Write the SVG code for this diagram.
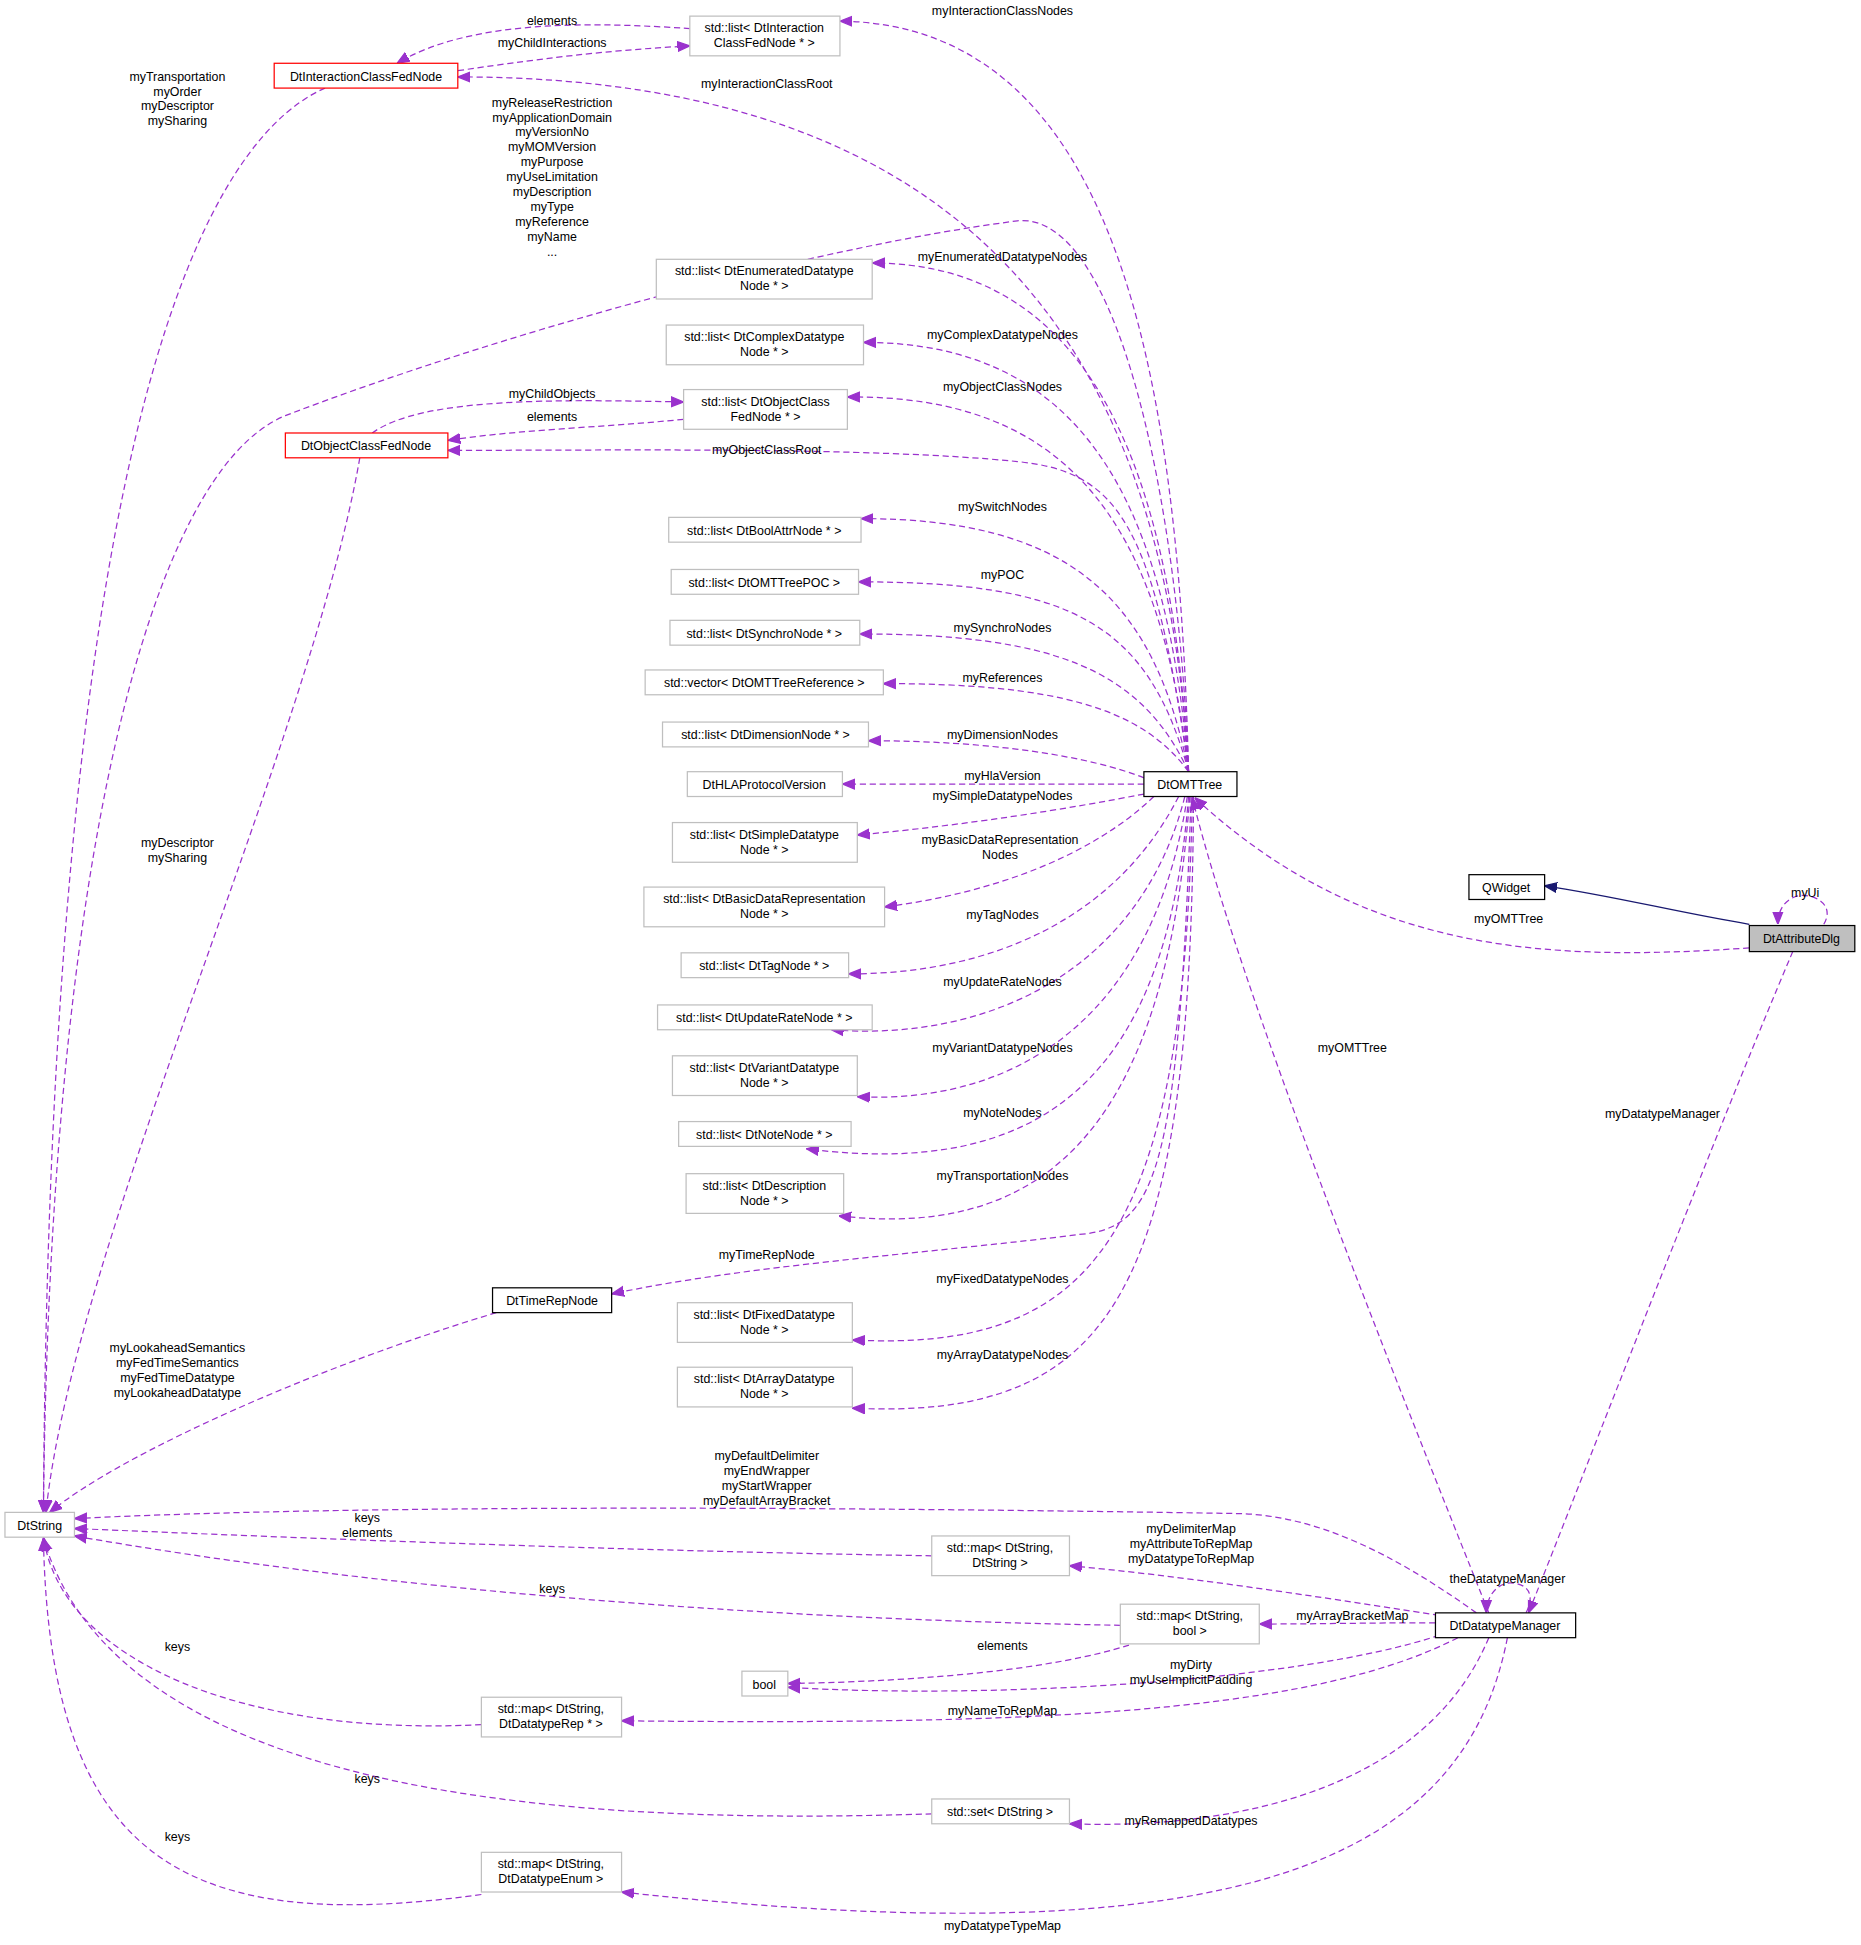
<svg xmlns="http://www.w3.org/2000/svg" width="1861" height="1945" viewBox="0 0 1861 1945">
<style>
text{font-family:"Liberation Sans",Arial,sans-serif;font-size:10px;fill:#000}
.n text{text-anchor:middle}
.g{fill:#fff;stroke:#bfbfbf;stroke-width:1}
.b{fill:#fff;stroke:#000;stroke-width:1}
.r{fill:#fff;stroke:#ff0000;stroke-width:1}
.e path{fill:none;stroke:#9a32cd;stroke-width:1;stroke-dasharray:5,3;marker-end:url(#m)}
.e text{text-anchor:middle}
</style>
<defs>
<marker id="m" viewBox="0 0 10 10" refX="10" refY="5" markerWidth="10" markerHeight="10" markerUnits="userSpaceOnUse" orient="auto"><path d="M0,1 L10,5 L0,9 z" fill="#9a32cd" stroke="#9a32cd"/></marker>
<marker id="mb" viewBox="0 0 10 10" refX="10" refY="5" markerWidth="10" markerHeight="10" markerUnits="userSpaceOnUse" orient="auto"><path d="M0,1 L10,5 L0,9 z" fill="#191970" stroke="#191970"/></marker>
</defs>
<rect width="1861" height="1945" fill="#fff"/>
<g transform="scale(1.24067)">
<g class="e" id="edges">
<path d="M958,622 C950,300 900,20 677,17"/><text x="808" y="12">myInteractionClassNodes</text>
<path d="M958,622 C940,300 800,62 369,62"/><text x="618" y="71">myInteractionClassRoot</text>
<path d="M958,622 C950,400 900,170 820,178 C650,200 400,270 230,335 C120,380 40,700 35,1219"/>
<text x="445" y="86">myReleaseRestriction</text><text x="445" y="98">myApplicationDomain</text><text x="445" y="110">myVersionNo</text><text x="445" y="122">myMOMVersion</text><text x="445" y="134">myPurpose</text><text x="445" y="146">myUseLimitation</text><text x="445" y="158">myDescription</text><text x="445" y="170">myType</text><text x="445" y="182">myReference</text><text x="445" y="194">myName</text><text x="445" y="206">...</text>
<path d="M958,622 C945,380 880,212 703,212"/><text x="808" y="210">myEnumeratedDatatypeNodes</text>
<path d="M958,622 C940,400 870,276 696,276"/><text x="808" y="273">myComplexDatatypeNodes</text>
<path d="M958,622 C935,420 860,318 683,320"/><text x="808" y="315">myObjectClassNodes</text>
<path d="M958,622 C930,420 900,380 820,372 C700,360 500,363 361,363"/><text x="618" y="366">myObjectClassRoot</text>
<path d="M958,622 C930,480 860,418 694,418"/><text x="808" y="412">mySwitchNodes</text>
<path d="M958,622 C925,500 860,469 692,469"/><text x="808" y="467">myPOC</text>
<path d="M958,622 C920,540 850,511 693,511"/><text x="808" y="509">mySynchroNodes</text>
<path d="M958,622 C920,570 850,551 712,551"/><text x="808" y="550">myReferences</text>
<path d="M922,627 C880,610 800,597 700,597"/><text x="808" y="596">myDimensionNodes</text>
<path d="M922,632 L679,632"/><text x="808" y="629">myHlaVersion</text>
<path d="M922,640 C860,652 780,665 691,673"/><text x="808" y="645">mySimpleDatatypeNodes</text>
<path d="M930,642 C880,690 800,720 713,731"/><text x="806" y="680">myBasicDataRepresentation</text><text x="806" y="692">Nodes</text>
<path d="M950,642 C900,740 800,785 684,785"/><text x="808" y="741">myTagNodes</text>
<path d="M955,642 C920,780 800,840 670,830"/><text x="808" y="795">myUpdateRateNodes</text>
<path d="M957,642 C930,820 820,890 691,884"/><text x="808" y="848">myVariantDatatypeNodes</text>
<path d="M958,642 C940,870 840,950 650,926"/><text x="808" y="900">myNoteNodes</text>
<path d="M959,642 C940,900 850,1000 676,980"/><text x="808" y="951">myTransportationNodes</text>
<path d="M960,642 C950,950 930,990 870,995 C750,1010 600,1020 493,1043"/><text x="618" y="1015">myTimeRepNode</text>
<path d="M961,642 C955,1000 880,1090 687,1080"/><text x="808" y="1034">myFixedDatatypeNodes</text>
<path d="M962,642 C960,1040 900,1145 687,1135"/><text x="808" y="1095">myArrayDatatypeNodes</text>
<path d="M369,57 C450,45 500,40 556,37"/><text x="445" y="38">myChildInteractions</text>
<path d="M556,23 C480,18 380,15 320,51"/><text x="445" y="20">elements</text>
<path d="M262,71 C150,120 40,400 35,1219"/><text x="143" y="65">myTransportation</text><text x="143" y="77">myOrder</text><text x="143" y="89">myDescriptor</text><text x="143" y="101">mySharing</text>
<path d="M300,349 C340,320 450,322 551,324"/><text x="445" y="321">myChildObjects</text>
<path d="M551,338 C480,345 420,346 361,355"/><text x="445" y="339">elements</text>
<path d="M290,369 C250,600 60,1000 37,1219"/><text x="143" y="683">myDescriptor</text><text x="143" y="695">mySharing</text>
<path d="M400,1058 C260,1100 100,1170 40,1219"/><text x="143" y="1090">myLookaheadSemantics</text><text x="143" y="1102">myFedTimeSemantics</text><text x="143" y="1114">myFedTimeDatatype</text><text x="143" y="1126">myLookaheadDatatype</text>
<path d="M1410,764 C1250,775 1100,770 963,643"/><text x="1216" y="744">myOMTTree</text>
<path d="M1445,767 C1380,920 1280,1180 1232,1300"/><text x="1340" y="901">myDatatypeManager</text>
<path d="M1470,745 C1480,728 1460,720 1450,722 C1440,724 1433,732 1433,745"/><text x="1455" y="723">myUi</text>
<path d="M1200,1300 C1120,1100 1000,800 961,643"/><text x="1090" y="848">myOMTTree</text>
<path d="M1230,1300 C1240,1280 1225,1275 1215,1276 C1205,1278 1198,1288 1198,1300"/><text x="1215" y="1276">theDatatypeManager</text>
<path d="M1190,1300 C1120,1250 1060,1222 1000,1220 C700,1215 300,1212 60,1224"/><text x="618" y="1177">myDefaultDelimiter</text><text x="618" y="1189">myEndWrapper</text><text x="618" y="1201">myStartWrapper</text><text x="618" y="1213">myDefaultArrayBracket</text>
<path d="M751,1254 C500,1250 250,1240 60,1232"/><text x="296" y="1227">keys</text><text x="296" y="1239">elements</text>
<path d="M1160,1302 C1050,1285 950,1270 862,1262"/><text x="960" y="1236">myDelimiterMap</text><text x="960" y="1248">myAttributeToRepMap</text><text x="960" y="1260">myDatatypeToRepMap</text>
<path d="M903,1310 C600,1305 300,1280 60,1238"/><text x="445" y="1284">keys</text>
<path d="M1157,1308 C1100,1308 1060,1309 1015,1309"/><text x="1090" y="1306">myArrayBracketMap</text>
<path d="M910,1326 C850,1345 750,1355 635,1357"/><text x="808" y="1330">elements</text>
<path d="M1160,1318 C1050,1355 800,1370 635,1360"/><text x="960" y="1345">myDirty</text><text x="960" y="1357">myUseImplicitPadding</text>
<path d="M388,1390 C200,1400 50,1340 35,1239"/><text x="143" y="1331">keys</text>
<path d="M1175,1320 C1050,1385 800,1390 501,1387"/><text x="808" y="1382">myNameToRepMap</text>
<path d="M751,1462 C500,1470 100,1460 35,1240"/><text x="296" y="1437">keys</text>
<path d="M1200,1320 C1150,1440 1000,1475 862,1470"/><text x="960" y="1471">myRemappedDatatypes</text>
<path d="M388,1527 C150,1560 40,1500 35,1240"/><text x="143" y="1484">keys</text>
<path d="M1215,1320 C1180,1500 1000,1580 501,1525"/><text x="808" y="1556">myDatatypeTypeMap</text>
<path d="M1410,745 C1350,735 1300,722 1245,714" style="stroke:#191970;stroke-dasharray:none;marker-end:url(#mb)"/>
</g>
<g class="n">
<g id="n1"><rect class="r" x="221" y="51" width="148" height="20"/><text x="295" y="65">DtInteractionClassFedNode</text></g>
<g id="n2"><rect class="g" x="556" y="13" width="121" height="32"/><text x="616" y="26">std::list&lt; DtInteraction</text><text x="616" y="38">ClassFedNode * &gt;</text></g>
<g id="n3"><rect class="r" x="230" y="349" width="131" height="20"/><text x="295" y="363">DtObjectClassFedNode</text></g>
<g id="n4"><rect class="g" x="529" y="209" width="174" height="32"/><text x="616" y="222">std::list&lt; DtEnumeratedDatatype</text><text x="616" y="234">Node * &gt;</text></g>
<g id="n5"><rect class="g" x="537" y="262" width="159" height="32"/><text x="616" y="275">std::list&lt; DtComplexDatatype</text><text x="616" y="287">Node * &gt;</text></g>
<g id="n6"><rect class="g" x="551" y="314" width="132" height="32"/><text x="617" y="327">std::list&lt; DtObjectClass</text><text x="617" y="339">FedNode * &gt;</text></g>
<g id="n7"><rect class="g" x="539" y="417" width="155" height="20"/><text x="616" y="431">std::list&lt; DtBoolAttrNode * &gt;</text></g>
<g id="n8"><rect class="g" x="541" y="459" width="151" height="20"/><text x="616" y="473">std::list&lt; DtOMTTreePOC &gt;</text></g>
<g id="n9"><rect class="g" x="540" y="500" width="153" height="20"/><text x="616" y="514">std::list&lt; DtSynchroNode * &gt;</text></g>
<g id="n10"><rect class="g" x="520" y="540" width="192" height="20"/><text x="616" y="554">std::vector&lt; DtOMTTreeReference &gt;</text></g>
<g id="n11"><rect class="g" x="534" y="582" width="166" height="20"/><text x="617" y="596">std::list&lt; DtDimensionNode * &gt;</text></g>
<g id="n12"><rect class="g" x="554" y="622" width="125" height="20"/><text x="616" y="636">DtHLAProtocolVersion</text></g>
<g id="n13"><rect class="g" x="542" y="663" width="149" height="32"/><text x="616" y="676">std::list&lt; DtSimpleDatatype</text><text x="616" y="688">Node * &gt;</text></g>
<g id="n14"><rect class="g" x="519" y="715" width="194" height="32"/><text x="616" y="728">std::list&lt; DtBasicDataRepresentation</text><text x="616" y="740">Node * &gt;</text></g>
<g id="n15"><rect class="g" x="549" y="768" width="135" height="20"/><text x="616" y="782">std::list&lt; DtTagNode * &gt;</text></g>
<g id="n16"><rect class="g" x="530" y="810" width="173" height="20"/><text x="616" y="824">std::list&lt; DtUpdateRateNode * &gt;</text></g>
<g id="n17"><rect class="g" x="542" y="851" width="149" height="32"/><text x="616" y="864">std::list&lt; DtVariantDatatype</text><text x="616" y="876">Node * &gt;</text></g>
<g id="n18"><rect class="g" x="547" y="904" width="139" height="20"/><text x="616" y="918">std::list&lt; DtNoteNode * &gt;</text></g>
<g id="n19"><rect class="g" x="553" y="946" width="127" height="32"/><text x="616" y="959">std::list&lt; DtDescription</text><text x="616" y="971">Node * &gt;</text></g>
<g id="n20"><rect class="b" x="397" y="1038" width="96" height="20"/><text x="445" y="1052">DtTimeRepNode</text></g>
<g id="n21"><rect class="g" x="546" y="1050" width="141" height="32"/><text x="616" y="1063">std::list&lt; DtFixedDatatype</text><text x="616" y="1075">Node * &gt;</text></g>
<g id="n22"><rect class="g" x="546" y="1102" width="141" height="32"/><text x="616" y="1115">std::list&lt; DtArrayDatatype</text><text x="616" y="1127">Node * &gt;</text></g>
<g id="n23"><rect class="b" x="922" y="622" width="75" height="20"/><text x="959" y="636">DtOMTTree</text></g>
<g id="n24"><rect class="b" x="1184" y="705" width="61" height="20"/><text x="1214" y="719">QWidget</text></g>
<g id="n25"><rect x="1410" y="746" width="85" height="21" fill="#bfbfbf" stroke="#000"/><text x="1452" y="760">DtAttributeDlg</text></g>
<g id="n26"><rect class="g" x="4" y="1219" width="56" height="20"/><text x="32" y="1233">DtString</text></g>
<g id="n27"><rect class="g" x="751" y="1238" width="111" height="32"/><text x="806" y="1251">std::map&lt; DtString,</text><text x="806" y="1263">DtString &gt;</text></g>
<g id="n28"><rect class="g" x="903" y="1293" width="112" height="32"/><text x="959" y="1306">std::map&lt; DtString,</text><text x="959" y="1318">bool &gt;</text></g>
<g id="n29"><rect class="g" x="598" y="1347" width="37" height="20"/><text x="616" y="1361">bool</text></g>
<g id="n30"><rect class="g" x="388" y="1368" width="113" height="32"/><text x="444" y="1381">std::map&lt; DtString,</text><text x="444" y="1393">DtDatatypeRep * &gt;</text></g>
<g id="n31"><rect class="b" x="1157" y="1300" width="113" height="20"/><text x="1213" y="1314">DtDatatypeManager</text></g>
<g id="n32"><rect class="g" x="751" y="1450" width="111" height="20"/><text x="806" y="1464">std::set&lt; DtString &gt;</text></g>
<g id="n33"><rect class="g" x="388" y="1493" width="113" height="32"/><text x="444" y="1506">std::map&lt; DtString,</text><text x="444" y="1518">DtDatatypeEnum &gt;</text></g>
</g>
</g>
</svg>
